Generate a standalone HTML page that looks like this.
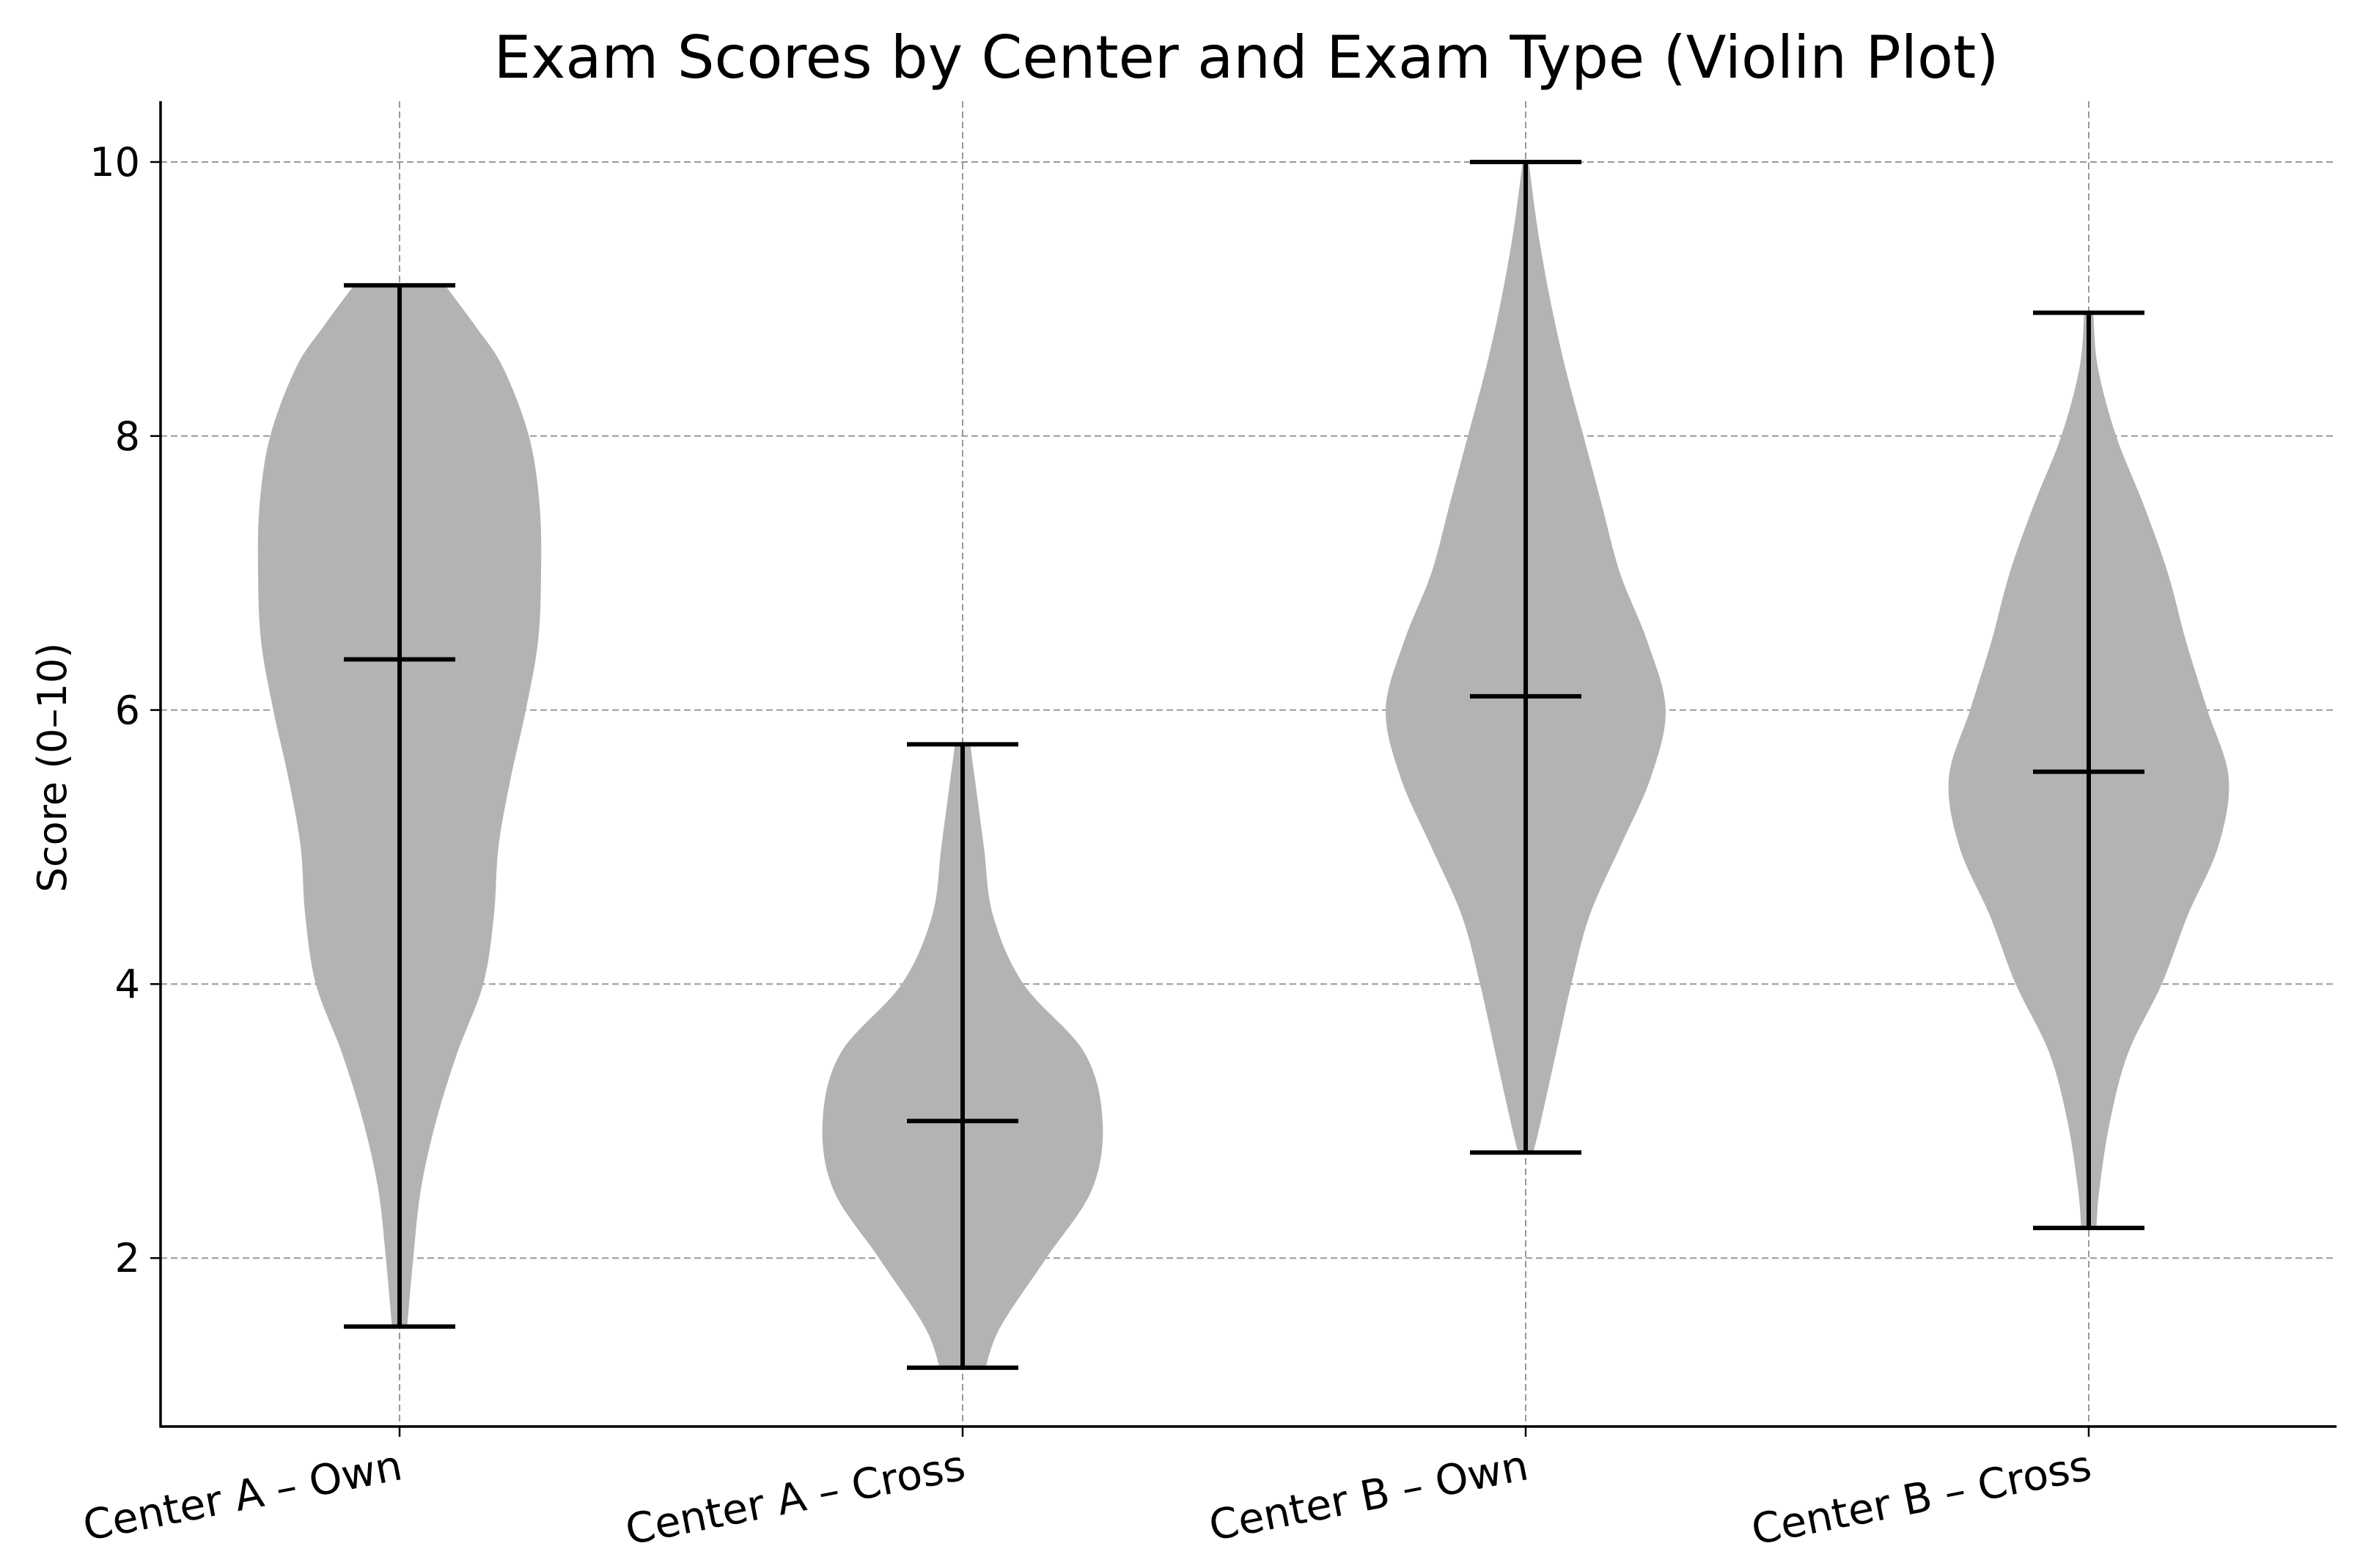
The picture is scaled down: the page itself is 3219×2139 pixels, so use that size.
<!DOCTYPE html>
<html><head><meta charset="utf-8">
<style>
html,body{margin:0;padding:0;background:#fff;}
svg{display:block;font-family:"DejaVu Sans","Liberation Sans",sans-serif;}
</style></head>
<body>
<svg id="chart" width="3219" height="2139" viewBox="0 0 3219 2139">
<text x="1700" y="106" font-size="80" text-anchor="middle" fill="#000">Exam Scores by Center and Exam Type (Violin Plot)</text>
<g id="grid"></g>
<g id="violins"></g>
<g id="axes"></g>
<text transform="translate(90,1047) rotate(-90)" font-size="54" text-anchor="middle" fill="#000">Score (0–10)</text>
</svg>
<script>
const categories = ["Center A – Own","Center A – Cross","Center B – Own","Center B – Cross"];
const yTicks = [2,4,6,8,10];
const mins = [1.5,1.2,2.77,2.22];
const maxs = [9.1,5.75,10.0,8.9];
const medians = [6.37,3.0,6.1,5.55];
const profScoresA = [1.5,2.0,2.5,3.0,3.5,4.0,4.5,5.0,5.5,6.0,6.5,7.0,7.5,8.0,8.5,8.8,9.1];
const profWidthA  = [5,9,14,24,38,55,62,65,73,83,91,93,92,85,68,50,30];
const profScoresB = [1.2,1.5,2.0,2.5,3.0,3.5,4.0,4.5,5.0,5.5,5.75];
const profWidthB  = [15,25,55,85,92,80,40,20,14,8,5];
const profScoresC = [2.77,3.0,3.5,4.0,4.5,5.0,5.5,6.0,6.5,7.0,7.5,8.0,8.5,9.0,9.5,10.0];
const profWidthC  = [5,10,20,30,42,62,82,92,80,62,50,38,26,16,8,2];
const profScoresD = [2.22,2.5,3.0,3.5,4.0,4.5,5.0,5.5,6.0,6.5,7.0,7.5,8.0,8.5,8.9];
const profWidthD  = [5,7,14,26,48,65,85,92,78,64,52,36,18,6,3];
const profScores = [profScoresA,profScoresB,profScoresC,profScoresD];
const profWidths = [profWidthA,profWidthB,profWidthC,profWidthD];

const NS="http://www.w3.org/2000/svg";
const L=219,R=3187,T=138,B=1946;
const yScale=v=>2090-186.9*v;
const xScale=i=>545+768*i;
const halfMax=193;
function mk(tag,attrs,parent){const e=document.createElementNS(NS,tag);for(const k in attrs)e.setAttribute(k,attrs[k]);parent.appendChild(e);return e;}
const grid=document.getElementById('grid'),vg=document.getElementById('violins'),ax=document.getElementById('axes');

yTicks.forEach(v=>{
  const y=yScale(v);
  const g=mk('line',{x1:L,x2:R,y1:y,y2:y,stroke:'#999',"stroke-width":2,"stroke-dasharray":"9,5"},grid);
  
  
  const t=mk('line',{x1:L-14,x2:L,y1:y,y2:y,stroke:'#000',"stroke-width":2.5},ax);
  
  
  const lb=mk('text',{x:L-28,y:y+19,"font-size":54,"text-anchor":"end",fill:'#000'},ax);
  lb.textContent=v;
  
  
});
categories.forEach((c,i)=>{
  const x=xScale(i);
  const g=mk('line',{x1:x,x2:x,y1:T,y2:B,stroke:'#999',"stroke-width":2,"stroke-dasharray":"9,5"},grid);
  
  
});

function smoothPath(pts){
  let d='M'+pts[0][0]+','+pts[0][1];
  for(let i=0;i<pts.length-1;i++){
    const p0=pts[Math.max(i-1,0)],p1=pts[i],p2=pts[i+1],p3=pts[Math.min(i+2,pts.length-1)];
    const c1=[p1[0]+(p2[0]-p0[0])/6,p1[1]+(p2[1]-p0[1])/6];
    const c2=[p2[0]-(p3[0]-p1[0])/6,p2[1]-(p3[1]-p1[1])/6];
    d+=` C${c1[0]},${c1[1]} ${c2[0]},${c2[1]} ${p2[0]},${p2[1]}`;
  }
  return d;
}
categories.forEach((c,i)=>{
  const x=xScale(i),s=profScores[i],w=profWidths[i];
  const right=s.map((v,j)=>[x+w[j]/93*halfMax,yScale(v)]);
  const left=s.map((v,j)=>[x-w[j]/93*halfMax,yScale(v)]).reverse();
  let d=smoothPath(right);
  d+=' L'+left[0][0]+','+left[0][1];
  d+=smoothPath(left).replace(/^M[^ C]+/,'');
  d+='Z';
  const p=mk('path',{d:d,fill:'#b3b3b3',stroke:'none'},vg);
  
  
  const cap=76;
  const ln=mk('line',{x1:x,x2:x,y1:yScale(mins[i]),y2:yScale(maxs[i]),stroke:'#000',"stroke-width":6},vg);
  
  
  [[mins[i],'min-cap'],[maxs[i],'max-cap'],[medians[i],'median-line']].forEach(([v,n])=>{
    const l=mk('line',{x1:x-cap,x2:x+cap,y1:yScale(v),y2:yScale(v),stroke:'#000',"stroke-width":6},vg);
    
    
  });
  const t=mk('line',{x1:x,x2:x,y1:B,y2:B+14,stroke:'#000',"stroke-width":2.5},ax);
  
  
  const lb=mk('text',{x:x,y:B+72,"font-size":57,"text-anchor":"end",fill:'#000',transform:`rotate(-11 ${x} ${B+40})`},ax);
  lb.textContent=c;
  
  
});
const sp1=mk('line',{x1:L,x2:L,y1:T,y2:B+1.5,stroke:'#000',"stroke-width":3.5},ax);


const sp2=mk('line',{x1:L-1.5,x2:R,y1:B,y2:B,stroke:'#000',"stroke-width":3.5},ax);


</script>
</body></html>
